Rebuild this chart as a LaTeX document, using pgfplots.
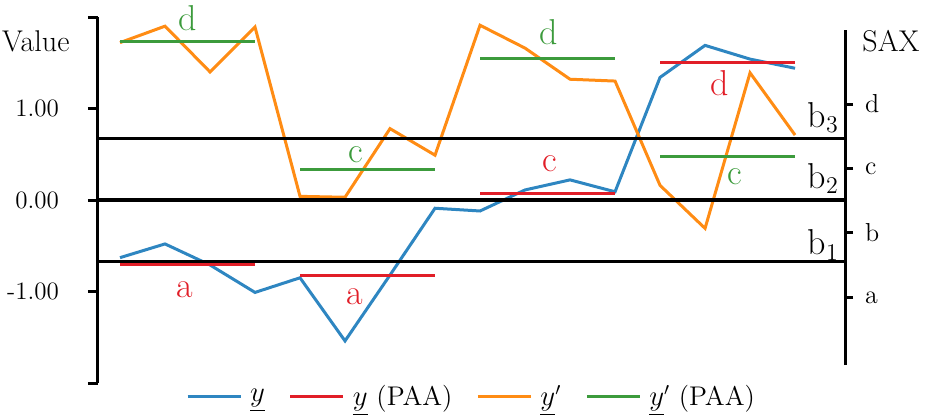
\documentclass[border=0pt]{standalone}
\usepackage{pgfplots}
\pgfplotsset{compat=1.18}
\definecolor{cblue}{RGB}{46,134,193}
\definecolor{corange}{RGB}{255,140,20}
\definecolor{cred}{RGB}{225,30,40}
\definecolor{cgreen}{RGB}{60,155,60}
\newcommand{\fs}{\fontsize{12.5}{14}\selectfont}
\newcommand{\fb}{\fontsize{18}{20}\selectfont}
\begin{document}
\begin{tikzpicture}
\path[use as bounding box] (-49pt,-18pt) rectangle (415.5pt,191.5pt);
\begin{axis}[
  at={(0pt,0pt)}, anchor=south west, scale only axis,
  width=373.5pt, height=183pt,
  xmin=-0.489, xmax=16.11, ymin=-2, ymax=2,
  hide x axis, axis y line*=left,
  ytick={-2,-1,0,1,2}, yticklabels={{},{-1.00},{0.00},{1.00},{}},
  tick align=outside, major tick length=5pt,
  axis line style={line width=1.5pt, black},
  every tick/.style={line width=1.5pt, black},
  yticklabel style={font=\fs, xshift=-11pt},
  clip=false,
  unbounded coords=jump,
  legend columns=4,
  legend style={at={(0.5,-0.038)}, anchor=center, draw=none, fill=none,
    font=\fontsize{13.5}{15}\selectfont,
    nodes={inner xsep=1pt},
    /tikz/every odd column/.append style={column sep=3pt},
    /tikz/every even column/.append style={column sep=11pt}},
  legend image code/.code={\draw[#1] (0pt,0pt) -- (26.5pt,0pt);},
]
\addplot[cblue, line width=1.5pt] coordinates {
(0,-0.63) (1,-0.48) (2,-0.71) (3,-1.01) (4,-0.85) (5,-1.54) (6,-0.82) (7,-0.09)
(8,-0.12) (9,0.11) (10,0.22) (11,0.09) (12,1.34) (13,1.69) (14,1.54) (15,1.44)};
\addlegendentry{$\underline{y}$}
\addplot[cred, line width=1.5pt] coordinates {
(0,-0.71) (3,-0.71) (3.5,nan) (4,-0.83) (7,-0.83) (7.5,nan)
(8,0.07) (11,0.07) (11.5,nan) (12,1.50) (15,1.50)};
\addlegendentry{$\underline{y}$ (PAA)}
\addplot[corange, line width=1.5pt] coordinates {
(0,1.72) (1,1.90) (2,1.40) (3,1.89) (4,0.04) (5,0.03) (6,0.78) (7,0.49)
(8,1.91) (9,1.66) (10,1.32) (11,1.30) (12,0.16) (13,-0.31) (14,1.39) (15,0.71)};
\addlegendentry{$\underline{y}'$}
\addplot[cgreen, line width=1.5pt] coordinates {
(0,1.73) (3,1.73) (3.5,nan) (4,0.33) (7,0.33) (7.5,nan)
(8,1.55) (11,1.55) (11.5,nan) (12,0.48) (15,0.48)};
\addlegendentry{$\underline{y}'$ (PAA)}
\addplot[black, line width=1.6pt, forget plot] coordinates {(-0.489,0.674) (16.11,0.674)};
\addplot[black, line width=1.6pt, forget plot] coordinates {(-0.489,0) (16.11,0)};
\addplot[black, line width=1.6pt, forget plot] coordinates {(-0.489,-0.674) (16.11,-0.674)};
% SAX labels
\node[cred, font=\fb] at (axis cs:1.44,-0.98) {a};
\node[cred, font=\fb] at (axis cs:5.22,-1.06) {a};
\node[cred, font=\fb] at (axis cs:9.56,0.40) {c};
\node[cred, font=\fb] at (axis cs:13.33,1.28) {d};
\node[cgreen, font=\fb] at (axis cs:1.51,1.99) {d};
\node[cgreen, font=\fb] at (axis cs:5.24,0.49) {c};
\node[cgreen, font=\fb] at (axis cs:9.53,1.83) {d};
\node[cgreen, font=\fb] at (axis cs:13.67,0.25) {c};
% breakpoints
\node[anchor=base east, font=\fb, inner sep=0pt] at (axis cs:15.98,0.79) {b$_3$};
\node[anchor=base east, font=\fb, inner sep=0pt] at (axis cs:15.98,0.13) {b$_2$};
\node[anchor=base east, font=\fb, inner sep=0pt] at (axis cs:15.98,-0.60) {b$_1$};
\node[font=\fontsize{15}{17}\selectfont] at (axis cs:-1.87,1.73) {Value};
\node[font=\fontsize{15}{17}\selectfont] at (axis cs:17.13,1.74) {SAX};
\end{axis}
\begin{axis}[
  at={(0pt,9pt)}, anchor=south west, scale only axis,
  width=373.5pt, height=167.5pt,
  xmin=0, xmax=1, ymin=-0.05, ymax=5.15,
  hide x axis, axis y line*=right,
  ytick={1,2,3,4}, yticklabels={a,b,c,d},
  tick align=outside, major tick length=4pt,
  axis line style={line width=1.5pt, black},
  every tick/.style={line width=1.5pt, black},
  yticklabel style={font=\fontsize{13}{15}\selectfont, xshift=2.5pt},
]
\end{axis}
\end{tikzpicture}
\end{document}
